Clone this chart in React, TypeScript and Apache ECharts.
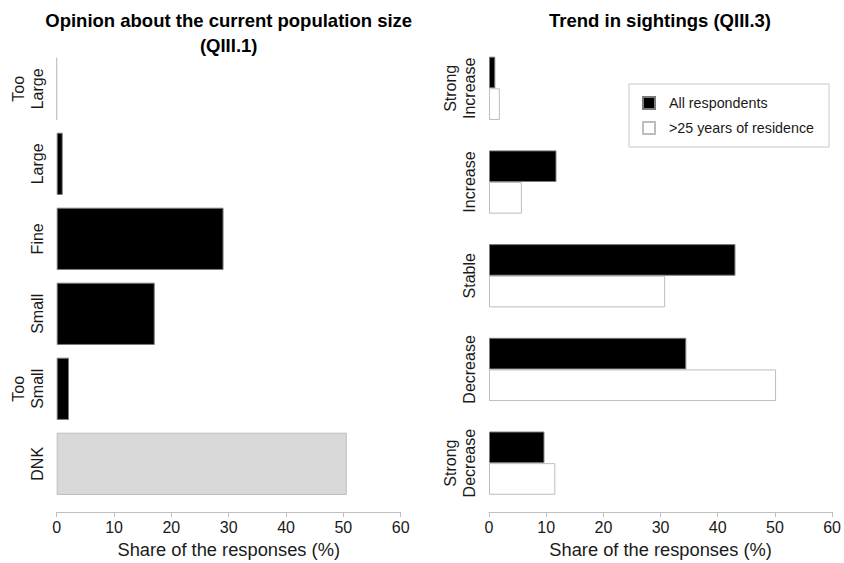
import React, { useEffect, useRef } from "react";
import * as echarts from "echarts";

const opinionCategories = ["Too\nLarge", "Large", "Fine", "Small", "Too\nSmall", "DNK"];
const opinionValues = [0, 1.05, 29.1, 17.1, 2.15, 50.6];

const trendCategories = ["Strong\nIncrease", "Increase", "Stable", "Decrease", "Strong\nDecrease"];
const allRespondents = [1.1, 11.8, 43.1, 34.5, 9.7];
const longResidents = [1.9, 5.75, 30.8, 50.2, 11.6];

const seriesNames = ["All respondents", ">25 years of residence"];
const xTicks = { min: 0, max: 60, interval: 10 };

const FONT = "'Liberation Sans', Arial, Helvetica, sans-serif";
const TEXT = "#1a1a1a";
const AXIS = "#bfbfbf";

export default function App() {
  const ref = useRef<HTMLDivElement>(null);

  useEffect(() => {
    document.body.style.margin = "0";
    if (!ref.current) return;
    const chart = echarts.init(ref.current, undefined, { renderer: "svg" });

    const xAxisCommon = (gridIndex: number, offset: number) => ({
      type: "value",
      gridIndex,
      min: xTicks.min,
      max: xTicks.max,
      interval: xTicks.interval,
      offset,
      splitLine: { show: false },
      axisLine: { show: true, lineStyle: { color: AXIS, width: 1 } },
      axisTick: { show: true, length: 5, lineStyle: { color: AXIS, width: 1 } },
      axisLabel: { fontSize: 16, margin: 7, color: TEXT, fontFamily: FONT },
      name: "Share of the responses (%)",
      nameLocation: "middle",
      nameGap: 28,
      nameTextStyle: { fontSize: 18.3, color: TEXT, fontFamily: FONT },
    });

    const yAxisCommon = (gridIndex: number, data: string[]) => ({
      type: "category",
      gridIndex,
      data,
      inverse: true,
      axisLine: { show: false },
      axisTick: { show: false },
      splitLine: { show: false },
      axisLabel: {
        rotate: 90,
        fontSize: 16,
        lineHeight: 19,
        margin: 10,
        color: TEXT,
        fontFamily: FONT,
        interval: 0,
      },
    });

    const opinionData = opinionValues.map((v, i) => {
      const isDnk = opinionCategories[i] === "DNK";
      return {
        value: v,
        itemStyle: isDnk
          ? { color: "#d9d9d9", borderColor: "#bdbdbd", borderWidth: 1 }
          : v === 0
          ? { color: "#000", borderColor: "#c4c4c4", borderWidth: 1 }
          : { color: "#000", borderColor: "#7a7a7a", borderWidth: 1 },
      };
    });

    chart.setOption({
      animation: false,
      backgroundColor: "#fff",
      textStyle: { fontFamily: FONT },
      title: [
        {
          text: "Opinion about the current population size\n(QIII.1)",
          left: 228.7,
          top: 7.5,
          textAlign: "center",
          padding: 0,
          textStyle: {
            fontSize: 18.5,
            fontWeight: "bold",
            color: "#000",
            fontFamily: FONT,
            lineHeight: 25,
          },
        },
        {
          text: "Trend in sightings (QIII.3)",
          left: 660,
          top: 7.5,
          textAlign: "center",
          padding: 0,
          textStyle: {
            fontSize: 18.5,
            fontWeight: "bold",
            color: "#000",
            fontFamily: FONT,
            lineHeight: 25,
          },
        },
      ],
      legend: {
        data: seriesNames,
        orient: "vertical",
        left: 629,
        top: 84,
        padding: [12, 15, 12, 13],
        itemWidth: 12,
        itemHeight: 12,
        itemGap: 11,
        borderColor: "#c8c8c8",
        borderWidth: 1,
        selectedMode: false,
        icon: "rect",
        textStyle: { fontSize: 14.3, color: TEXT, fontFamily: FONT, padding: [0, 0, 0, 9] },
      },
      grid: [
        { left: 56.7, top: 51.35, width: 344, height: 451.8, containLabel: false },
        { left: 489, top: 41.45, width: 344.3, height: 470.5, containLabel: false },
      ],
      xAxis: [xAxisCommon(0, 10.7), xAxisCommon(1, 2)],
      yAxis: [yAxisCommon(0, opinionCategories), yAxisCommon(1, trendCategories)],
      series: [
        {
          name: "Opinion",
          type: "bar",
          xAxisIndex: 0,
          yAxisIndex: 0,
          barCategoryGap: "17%",
          data: opinionData,
        },
        {
          name: seriesNames[0],
          type: "bar",
          xAxisIndex: 1,
          yAxisIndex: 1,
          barGap: "0%",
          barCategoryGap: "32.5%",
          itemStyle: { color: "#000", borderColor: "#7a7a7a", borderWidth: 1 },
          data: allRespondents,
        },
        {
          name: seriesNames[1],
          type: "bar",
          xAxisIndex: 1,
          yAxisIndex: 1,
          barGap: "0%",
          barCategoryGap: "32.5%",
          itemStyle: { color: "#fff", borderColor: "#bdbdbd", borderWidth: 1 },
          data: longResidents,
        },
      ],
    });

    return () => chart.dispose();
  }, []);

  return (
    <div
      ref={ref}
      style={{ position: "fixed", left: 0, top: 0, width: 844, height: 563, background: "#fff" }}
    />
  );
}
